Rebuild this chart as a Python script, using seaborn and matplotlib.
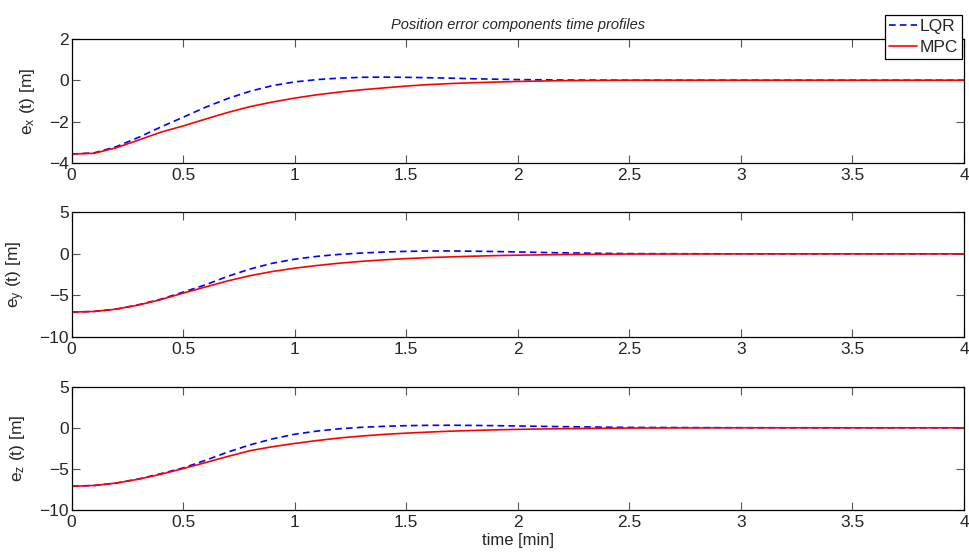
# ==================================================
# Position error components time profiles (LQR vs MPC)
# ==================================================

import pandas as pd
import seaborn as sns
import matplotlib.pyplot as plt


# ==================================================
# 1. style
# ==================================================

sns.set_style("ticks")

plt.rcParams["font.family"] = ["Liberation Sans", "DejaVu Sans"]
plt.rcParams["mathtext.default"] = "regular"


# ==================================================
# 2. data
# ==================================================

time_min = [0.0, 0.1, 0.2, 0.3, 0.4, 0.5, 0.6, 0.7, 0.8, 0.9,
            1.0, 1.1, 1.2, 1.3, 1.4, 1.5, 1.6, 1.7, 1.8, 1.9,
            2.0, 2.2, 2.5, 3.0, 3.5, 4.0]

ex_lqr = [-3.55, -3.50, -3.20, -2.75, -2.25, -1.78, -1.30, -0.88, -0.53, -0.26,
          -0.08, 0.03, 0.10, 0.14, 0.15, 0.14, 0.12, 0.10, 0.07, 0.05,
          0.03, 0.01, 0.0, 0.0, 0.0, 0.0]
ex_mpc = [-3.55, -3.52, -3.25, -2.88, -2.50, -2.20, -1.87, -1.55, -1.27, -1.05,
          -0.86, -0.70, -0.57, -0.46, -0.37, -0.28, -0.21, -0.16, -0.12, -0.09,
          -0.06, -0.02, 0.0, 0.0, 0.0, 0.0]

ey_lqr = [-7.00, -6.93, -6.65, -6.12, -5.45, -4.60, -3.72, -2.70, -1.82, -1.13,
          -0.64, -0.30, -0.06, 0.10, 0.22, 0.30, 0.34, 0.35, 0.32, 0.28,
          0.23, 0.12, 0.03, 0.0, 0.0, 0.0]
ey_mpc = [-7.00, -6.93, -6.65, -6.15, -5.50, -4.72, -3.98, -3.25, -2.62, -2.12,
          -1.72, -1.40, -1.12, -0.90, -0.72, -0.57, -0.45, -0.36, -0.28, -0.21,
          -0.16, -0.08, -0.02, 0.0, 0.0, 0.0]

ez_lqr = [-7.10, -7.02, -6.72, -6.22, -5.58, -4.88, -3.95, -2.95, -2.07, -1.35,
          -0.78, -0.40, -0.12, 0.06, 0.18, 0.26, 0.30, 0.31, 0.29, 0.26,
          0.22, 0.14, 0.05, 0.01, 0.0, 0.0]
ez_mpc = [-7.10, -7.02, -6.72, -6.25, -5.65, -4.96, -4.23, -3.48, -2.78, -2.30,
          -1.90, -1.55, -1.24, -1.00, -0.80, -0.65, -0.52, -0.41, -0.32, -0.25,
          -0.19, -0.10, -0.03, 0.0, 0.0, 0.0]

methods = ["LQR", "MPC"]
components = ["x", "y", "z"]

y_limits = {"x": (-4, 2), "y": (-10, 5), "z": (-10, 5)}
y_ticks = {"x": [-4, -2, 0, 2], "y": [-10, -5, 0, 5], "z": [-10, -5, 0, 5]}
x_ticks = [0, 0.5, 1, 1.5, 2, 2.5, 3, 3.5, 4]
x_tick_labels = ["0", "0.5", "1", "1.5", "2", "2.5", "3", "3.5", "4"]


# long format for seaborn
series = {
    ("x", "LQR"): ex_lqr, ("x", "MPC"): ex_mpc,
    ("y", "LQR"): ey_lqr, ("y", "MPC"): ey_mpc,
    ("z", "LQR"): ez_lqr, ("z", "MPC"): ez_mpc,
}

rows = []
for (comp, method), values in series.items():
    for t, v in zip(time_min, values):
        rows.append({"component": comp, "method": method, "time": t, "error": v})

df = pd.DataFrame(rows)


# ==================================================
# 3. plot
# ==================================================

fig = plt.figure(figsize=(9.7, 5.54), dpi=100)

# axes boxes (figure fraction) matched to the reference
boxes = [
    [0.0739, 0.7052, 0.9199, 0.2250],
    [0.0739, 0.3917, 0.9199, 0.2251],
    [0.0739, 0.0794, 0.9199, 0.2226],
]

palette = {"LQR": "#0000FF", "MPC": "#FF0000"}
dashes = {"LQR": (4, 2.5), "MPC": ""}

axes = []
for comp, box in zip(components, boxes):

    ax = fig.add_axes(box)

    sns.lineplot(
        data=df[df["component"] == comp],
        x="time",
        y="error",
        hue="method",
        style="method",
        hue_order=methods,
        style_order=methods,
        palette=palette,
        dashes=dashes,
        linewidth=1.2,
        legend=False,
        ax=ax
    )

    ax.set_xlim(0, 4)
    ax.set_ylim(*y_limits[comp])
    ax.set_xticks(x_ticks)
    ax.set_xticklabels(x_tick_labels)
    ax.set_yticks(y_ticks[comp])

    ax.set_xlabel("")
    ax.set_ylabel(f"e$_{comp}$ (t) [m]", fontsize=12.5, labelpad=9)

    ax.tick_params(
        direction="in",
        top=True,
        right=True,
        length=5.5,
        width=0.8,
        color="#555555",
        labelsize=12.5,
        pad=2
    )
    ax.tick_params(axis="x", pad=3.5)

    for spine in ax.spines.values():
        spine.set_visible(True)
        spine.set_linewidth(0.9)
        spine.set_color("black")

    axes.append(ax)


axes[0].set_title(
    "Position error components time profiles",
    fontsize=10.5,
    fontstyle="italic",
    pad=7
)

axes[2].set_xlabel("time [min]", fontsize=12, labelpad=2)


# legend (upper right, sitting over the title row)
handles = axes[0].get_lines()[:2]
leg = axes[0].legend(
    handles,
    methods,
    loc="upper right",
    bbox_to_anchor=(0.9918, 0.973),
    bbox_transform=fig.transFigure,
    fontsize=12.5,
    frameon=True,
    fancybox=False,
    framealpha=1,
    edgecolor="black",
    borderpad=0.25,
    handlelength=1.6,
    handletextpad=0.15,
    labelspacing=0.3,
    borderaxespad=0
)
leg.get_frame().set_linewidth(0.9)


plt.savefig("out.png", dpi=100)
plt.close()
